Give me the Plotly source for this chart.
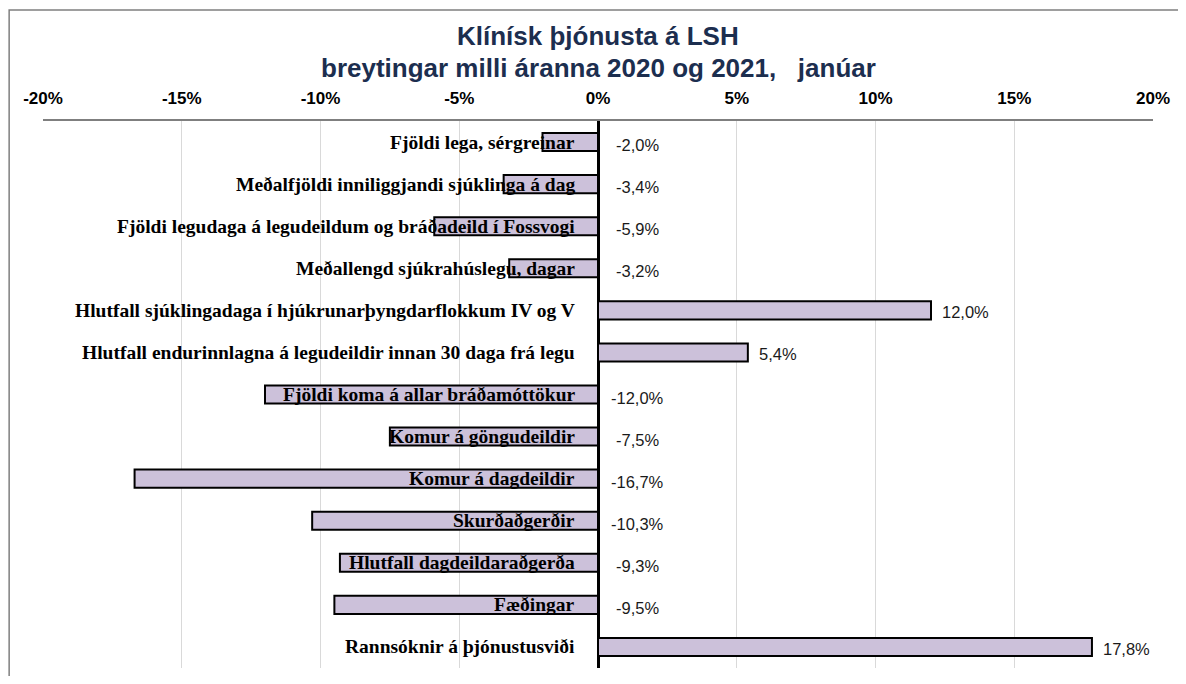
import plotly.graph_objects as go

categories = [
    "Fjöldi lega, sérgreinar",
    "Meðalfjöldi inniliggjandi sjúklinga á dag",
    "Fjöldi legudaga á legudeildum og bráðadeild í Fossvogi",
    "Meðallengd sjúkrahúslegu, dagar",
    "Hlutfall sjúklingadaga í hjúkrunarþyngdarflokkum IV og V",
    "Hlutfall endurinnlagna á legudeildir innan 30 daga frá legu",
    "Fjöldi koma á allar bráðamóttökur",
    "Komur á göngudeildir",
    "Komur á dagdeildir",
    "Skurðaðgerðir",
    "Hlutfall dagdeildaraðgerða",
    "Fæðingar",
    "Rannsóknir á þjónustusviði",
]
change_pct = [-2.0, -3.4, -5.9, -3.2, 12.0, 5.4, -12.0, -7.5, -16.7, -10.3, -9.3, -9.5, 17.8]

tick_vals = [-20, -15, -10, -5, 0, 5, 10, 15, 20]
tick_text = ["-20%", "-15%", "-10%", "-5%", "0%", "5%", "10%", "15%", "20%"]

title_line1 = "Klínísk þjónusta á LSH"
title_line2 = "breytingar milli áranna 2020 og 2021,\u00a0\u00a0 janúar"

SANS = "Liberation Sans, Arial, sans-serif"
SERIF = "Liberation Serif, Times New Roman, serif"

fig = go.Figure()
fig.add_trace(go.Bar(
    x=change_pct,
    y=categories,
    orientation="h",
    marker=dict(color="#CCC1DA", line=dict(color="#000000", width=2)),
    hoverinfo="x+y",
))

annotations = []
for cat, v in zip(categories, change_pct):
    annotations.append(dict(
        x=0, y=cat, xref="x", yref="y", text=cat, showarrow=False,
        xanchor="right", yanchor="middle", xshift=-21, yshift=0,
        font=dict(family=SERIF, size=19.5, color="#000000", weight="bold"),
    ))
    label = f"{v:.1f}".replace(".", ",") + "%"
    if v < 0:
        annotations.append(dict(
            x=0, y=cat, xref="x", yref="y", text=label, showarrow=False,
            xanchor="center", yanchor="middle", xshift=39, yshift=-3,
            font=dict(family=SANS, size=16.5, color="#1A1A1A"),
        ))
    else:
        annotations.append(dict(
            x=v, y=cat, xref="x", yref="y", text=label, showarrow=False,
            xanchor="left", yanchor="middle", xshift=9, yshift=-2,
            font=dict(family=SANS, size=16.5, color="#1A1A1A"),
        ))

# figure sits inside the page's 8px body margin
annotations.append(dict(
    x=0.5, y=1.0, xref="paper", yref="paper", yanchor="middle", xanchor="center",
    yshift=113 - 28, text=title_line1, showarrow=False,
    font=dict(family=SANS, size=26, color="#1C2E4F", weight="bold"),
))
annotations.append(dict(
    x=0.5, y=1.0, xref="paper", yref="paper", yanchor="middle", xanchor="center",
    yshift=113 - 59.5, text=title_line2, showarrow=False,
    font=dict(family=SANS, size=26, color="#1C2E4F", weight="bold"),
))

fig.update_layout(
    width=1170, height=668,
    margin=dict(l=35, r=12, t=113, b=8),
    paper_bgcolor="#FFFFFF", plot_bgcolor="#FFFFFF",
    showlegend=False,
    bargap=0.57,
    annotations=annotations,
    shapes=[dict(
        type="rect", xref="paper", yref="paper",
        x0=-0.0305, x1=1.03, y0=-0.06, y1=1.2029,
        line=dict(color="#7F7F7F", width=1.5), layer="below",
    )],
    xaxis=dict(
        side="top", range=[-20, 20], tickvals=tick_vals, ticktext=tick_text,
        showgrid=True, gridcolor="#D9D9D9", gridwidth=1,
        zeroline=True, zerolinecolor="#000000", zerolinewidth=3,
        showline=True, linecolor="#7F7F7F", linewidth=1.5, mirror=False,
        ticks="outside", ticklen=8, tickcolor="rgba(0,0,0,0)",
        ticklabeloverflow="allow",
        tickfont=dict(family=SANS, size=17, color="#000000", weight="bold"),
        fixedrange=True,
    ),
    yaxis=dict(
        autorange="reversed", showticklabels=False, showgrid=False,
        zeroline=False, showline=False, ticks="", fixedrange=True,
    ),
)

fig.write_html("out.html", config={"displayModeBar": False})
